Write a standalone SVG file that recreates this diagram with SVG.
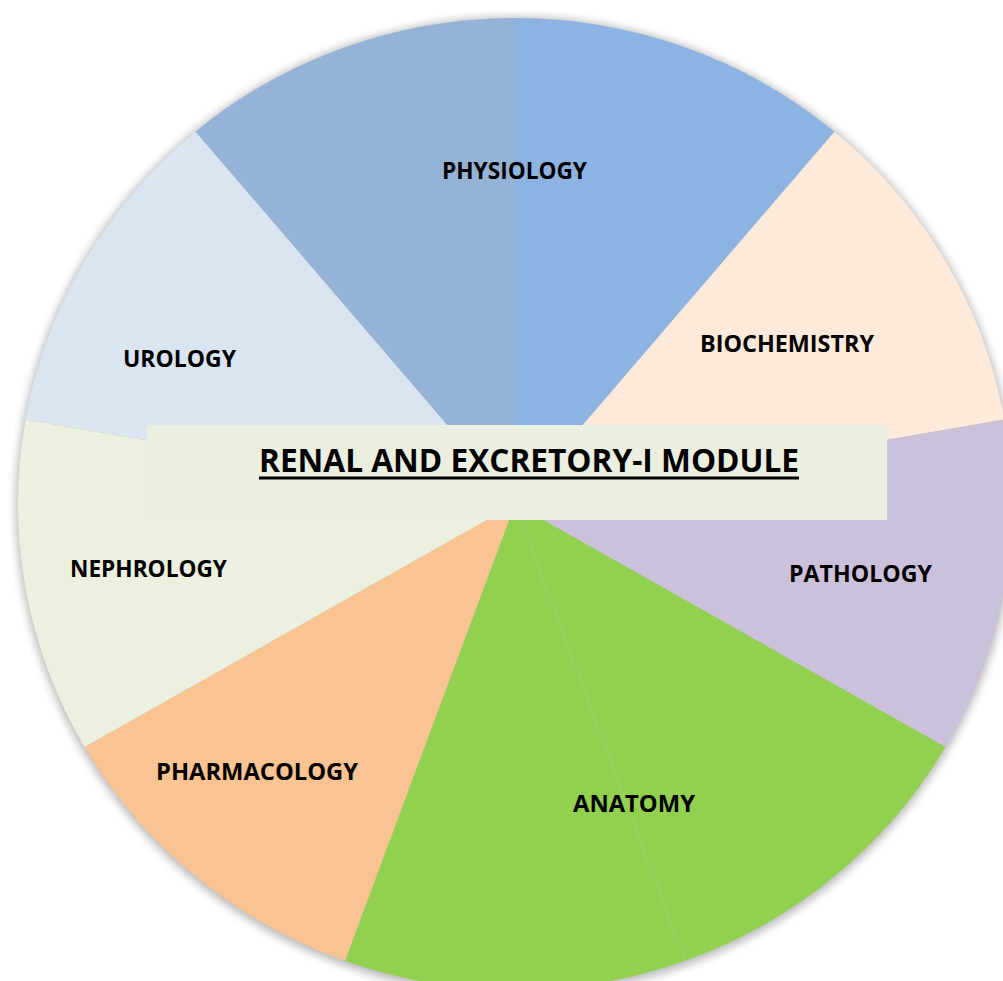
<svg xmlns="http://www.w3.org/2000/svg" width="1003" height="981" viewBox="0 0 1003 981">
  <defs>
    <filter id="shadow" x="-10%" y="-10%" width="120%" height="120%">
      <feGaussianBlur stdDeviation="5"/>
    </filter>
    <style>
      .lbl { font-family: "Open Sans", "Liberation Sans", sans-serif; font-weight: 700; font-size: 23px; fill: #000; text-anchor: start; }
      .title { font-family: "Open Sans", "Liberation Sans", sans-serif; font-weight: 700; font-size: 33px; fill: #000; }
      .slice { stroke: none; }
    </style>
  </defs>
  <rect width="1003" height="981" fill="#ffffff"/>
  <ellipse cx="515" cy="506" rx="499" ry="489" fill="#000" opacity="0.28" filter="url(#shadow)"/>

  <g id="physiology">
    <path class="slice" d="M515,504 L195.5,131.7 A497,486 0 0,1 515,18 Z" fill="#95B3D7"/>
    <path class="slice" d="M515,504 L515,18 A497,486 0 0,1 834.5,131.7 Z" fill="#8DB3E2"/>
    <text class="lbl" x="442" y="179" textLength="145" lengthAdjust="spacingAndGlyphs">PHYSIOLOGY</text>
  </g>
  <g id="biochemistry">
    <path class="slice" d="M515,504 L834.5,131.7 A497,486 0 0,1 1004.4,419.6 Z" fill="#FDEADA"/>
    <text class="lbl" x="700" y="352" textLength="174" lengthAdjust="spacingAndGlyphs">BIOCHEMISTRY</text>
  </g>
  <g id="pathology">
    <path class="slice" d="M515,504 L1004.4,419.6 A497,486 0 0,1 945.4,747 Z" fill="#CCC1DA"/>
    <text class="lbl" x="789" y="582" textLength="143" lengthAdjust="spacingAndGlyphs">PATHOLOGY</text>
  </g>
  <g id="anatomy">
    <path class="slice" d="M515,504 L945.4,747 A497,486 0 0,1 685,960.7 Z" fill="#92D050"/>
    <path class="slice" d="M515,504 L685,960.7 A497,486 0 0,1 345,960.7 Z" fill="#92D050"/>
    <line x1="515" y1="504" x2="685" y2="960.7" stroke="#A3D672" stroke-width="0.6"/>
    <text class="lbl" x="573" y="812" textLength="122" lengthAdjust="spacingAndGlyphs">ANATOMY</text>
  </g>
  <g id="pharmacology">
    <path class="slice" d="M515,504 L345,960.7 A497,486 0 0,1 84.6,747 Z" fill="#F9C392"/>
    <text class="lbl" x="156" y="780" textLength="202" lengthAdjust="spacingAndGlyphs">PHARMACOLOGY</text>
  </g>
  <g id="nephrology">
    <path class="slice" d="M515,504 L84.6,747 A497,486 0 0,1 25.6,419.6 Z" fill="#EBF1DE"/>
    <text class="lbl" x="70" y="577" textLength="157" lengthAdjust="spacingAndGlyphs">NEPHROLOGY</text>
  </g>
  <g id="urology">
    <path class="slice" d="M515,504 L25.6,419.6 A497,486 0 0,1 195.5,131.7 Z" fill="#DBE5F1"/>
    <text class="lbl" x="123" y="367" textLength="113" lengthAdjust="spacingAndGlyphs">UROLOGY</text>
  </g>

  <g id="title-box">
    <rect x="147" y="425" width="740" height="95" fill="#EBEFDF"/>
    <text class="title" x="259" y="472" textLength="540" lengthAdjust="spacingAndGlyphs">RENAL AND EXCRETORY-I MODULE</text>
    <rect x="259" y="476.5" width="540" height="3" fill="#000"/>
  </g>

  <g id="connectors"/>
</svg>
